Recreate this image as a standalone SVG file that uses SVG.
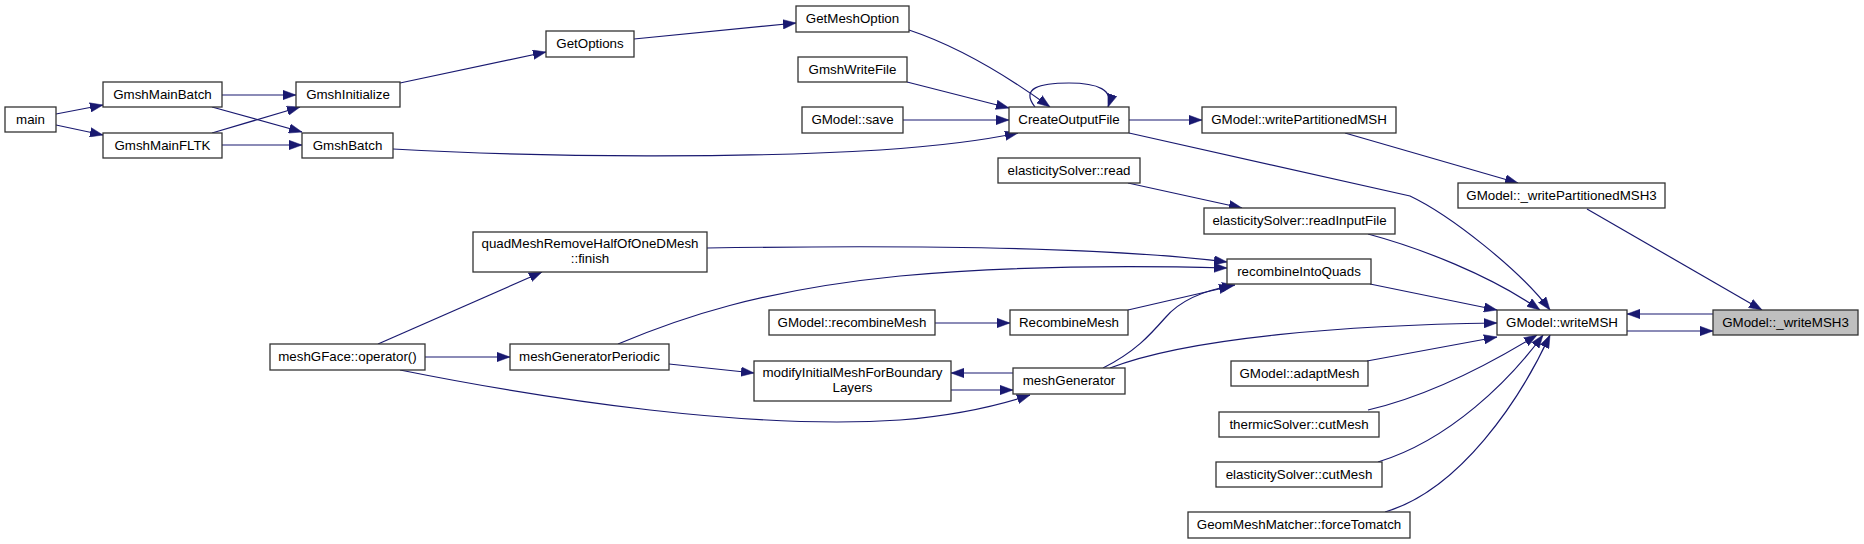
<svg xmlns="http://www.w3.org/2000/svg" width="1864" height="544" viewBox="0 0 1864 544">
<defs>
<marker id="ah" markerUnits="userSpaceOnUse" markerWidth="13" markerHeight="10" viewBox="0 0 13 10" refX="13" refY="5" orient="auto">
<path d="M0,0.3 L13,5 L0,9.7 z" fill="#191970" stroke="#191970" stroke-width="0.5"/>
</marker>
</defs>
<style>
.n rect{fill:#ffffff;stroke:#333333;stroke-width:1.3}
.n.hl rect{fill:#bfbfbf}
.n text{font-family:"Liberation Sans",Arial,sans-serif;font-size:13.33px;fill:#000;text-anchor:middle}
#edges path{fill:none;stroke:#191970;stroke-width:1.2;marker-end:url(#ah)}
</style>
<rect width="1864" height="544" fill="#ffffff"/>
<g id="edges">
<path d="M56,114 L103,105"/>
<path d="M56,125 L103,135"/>
<path d="M222,95 L296,95"/>
<path d="M212,107 L302,132"/>
<path d="M212,133 L300,107"/>
<path d="M222,145 L302,145"/>
<path d="M400,83 L546,52"/>
<path d="M634,39 L796,23"/>
<path d="M909,30 C960,47 1010,78 1050,107"/>
<path d="M907,82 L1009,108"/>
<path d="M903,120 L1009,120"/>
<path d="M393,149 C550,158 750,158 880,150 C940,146 985,140 1018,133"/>
<path d="M1035,107 C1020,88 1040,83 1069,83 C1098,83 1114,90 1108,107"/>
<path d="M1129,120 L1202,120"/>
<path d="M1129,133 L1410,196 C1450,215 1520,270 1550,310"/>
<path d="M1345,133 L1518,183"/>
<path d="M1128,183 L1242,208"/>
<path d="M1368,234 C1420,248 1490,275 1540,310"/>
<path d="M1587,209 L1762,310"/>
<path d="M1370,284 L1497,310"/>
<path d="M1713,314 L1627,314"/>
<path d="M1627,331 L1713,331"/>
<path d="M707,248 C900,245 1100,246 1227,262"/>
<path d="M618,344 C680,318 760,290 900,276 C1020,265 1150,266 1227,268"/>
<path d="M1128,310 L1232,286"/>
<path d="M1103,368 C1135,352 1150,335 1165,318 C1180,300 1205,290 1235,285"/>
<path d="M1110,368 C1190,337 1350,325 1497,323"/>
<path d="M669,364 L754,373"/>
<path d="M1367,361 L1497,337"/>
<path d="M1368,410 C1420,398 1480,370 1537,335"/>
<path d="M1378,462 C1450,440 1510,380 1543,335"/>
<path d="M1385,512 C1460,490 1520,400 1550,335"/>
<path d="M935,323 L1010,323"/>
<path d="M1013,373 L951,373"/>
<path d="M951,390 L1013,390"/>
<path d="M425,357 L510,357"/>
<path d="M378,344 L542,272"/>
<path d="M400,370 C550,400 750,430 900,420 C960,415 1000,405 1030,395"/>
</g>
<g id="node-main" class="n"><rect x="5" y="107" width="51" height="25"/><text x="30.5" y="123.5">main</text></g>
<g id="node-GmshMainBatch" class="n"><rect x="103" y="82" width="119" height="25"/><text x="162.5" y="98.5">GmshMainBatch</text></g>
<g id="node-GmshMainFLTK" class="n"><rect x="103" y="133" width="119" height="25"/><text x="162.5" y="149.5">GmshMainFLTK</text></g>
<g id="node-GmshInitialize" class="n"><rect x="296" y="82" width="104" height="25"/><text x="348" y="98.5">GmshInitialize</text></g>
<g id="node-GmshBatch" class="n"><rect x="302" y="133" width="91" height="25"/><text x="347.5" y="149.5">GmshBatch</text></g>
<g id="node-GetOptions" class="n"><rect x="546" y="31" width="88" height="26"/><text x="590" y="48">GetOptions</text></g>
<g id="node-GetMeshOption" class="n"><rect x="796" y="6" width="113" height="26"/><text x="852.5" y="23">GetMeshOption</text></g>
<g id="node-GmshWriteFile" class="n"><rect x="798" y="57" width="109" height="25"/><text x="852.5" y="73.5">GmshWriteFile</text></g>
<g id="node-GModel-save" class="n"><rect x="802" y="107" width="101" height="26"/><text x="852.5" y="124">GModel::save</text></g>
<g id="node-CreateOutputFile" class="n"><rect x="1009" y="107" width="120" height="26"/><text x="1069" y="124">CreateOutputFile</text></g>
<g id="node-elasticitySolver-read" class="n"><rect x="998" y="158" width="142" height="25"/><text x="1069" y="174.5">elasticitySolver::read</text></g>
<g id="node-GModel-writePartitionedMSH" class="n"><rect x="1202" y="107" width="194" height="26"/><text x="1299" y="124">GModel::writePartitionedMSH</text></g>
<g id="node-GModel-_writePartitionedMSH3" class="n"><rect x="1458" y="183" width="207" height="25"/><text x="1561.5" y="199.5">GModel::_writePartitionedMSH3</text></g>
<g id="node-elasticitySolver-readInputFile" class="n"><rect x="1204" y="208" width="191" height="26"/><text x="1299.5" y="225">elasticitySolver::readInputFile</text></g>
<g id="node-recombineIntoQuads" class="n"><rect x="1227" y="259" width="144" height="25"/><text x="1299" y="275.5">recombineIntoQuads</text></g>
<g id="node-GModel-writeMSH" class="n"><rect x="1497" y="310" width="130" height="25"/><text x="1562" y="326.5">GModel::writeMSH</text></g>
<g id="node-GModel-_writeMSH3" class="n hl"><rect x="1713" y="310" width="145" height="25"/><text x="1785.5" y="326.5">GModel::_writeMSH3</text></g>
<g id="node-GModel-adaptMesh" class="n"><rect x="1231" y="361" width="137" height="25"/><text x="1299.5" y="377.5">GModel::adaptMesh</text></g>
<g id="node-thermicSolver-cutMesh" class="n"><rect x="1219" y="412" width="160" height="25"/><text x="1299" y="428.5">thermicSolver::cutMesh</text></g>
<g id="node-elasticitySolver-cutMesh" class="n"><rect x="1216" y="462" width="166" height="25"/><text x="1299" y="478.5">elasticitySolver::cutMesh</text></g>
<g id="node-GeomMeshMatcher-forceTomatch" class="n"><rect x="1188" y="512" width="222" height="26"/><text x="1299" y="529">GeomMeshMatcher::forceTomatch</text></g>
<g id="node-quadMeshRemoveHalfOfOneDMesh-finish" class="n"><rect x="473" y="232" width="234" height="40"/><text x="590" y="248">quadMeshRemoveHalfOfOneDMesh</text><text x="590" y="262.5">::finish</text></g>
<g id="node-meshGFace-operator" class="n"><rect x="270" y="344" width="155" height="26"/><text x="347.5" y="361">meshGFace::operator()</text></g>
<g id="node-meshGeneratorPeriodic" class="n"><rect x="510" y="344" width="159" height="26"/><text x="589.5" y="361">meshGeneratorPeriodic</text></g>
<g id="node-GModel-recombineMesh" class="n"><rect x="769" y="310" width="166" height="25"/><text x="852" y="326.5">GModel::recombineMesh</text></g>
<g id="node-RecombineMesh" class="n"><rect x="1010" y="310" width="118" height="25"/><text x="1069" y="326.5">RecombineMesh</text></g>
<g id="node-modifyInitialMeshForBoundaryLayers" class="n"><rect x="754" y="361" width="197" height="40"/><text x="852.5" y="377">modifyInitialMeshForBoundary</text><text x="852.5" y="391.5">Layers</text></g>
<g id="node-meshGenerator" class="n"><rect x="1013" y="368" width="112" height="26"/><text x="1069" y="385">meshGenerator</text></g>
</svg>
